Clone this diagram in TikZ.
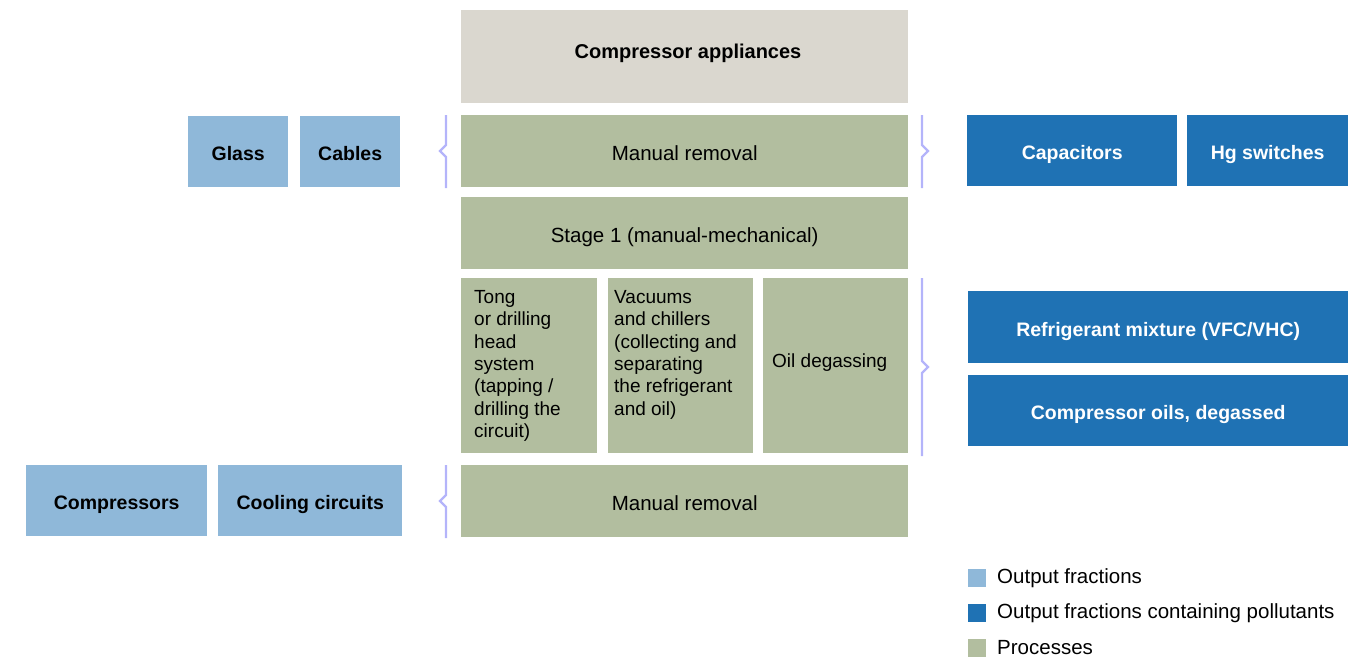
\documentclass[tikz,border=0pt]{standalone}
\usepackage{fontspec}
\setmainfont{Liberation Sans}
\definecolor{procfill}{HTML}{B2BE9F}
\definecolor{topfill}{HTML}{DAD7CF}
\definecolor{lightout}{HTML}{8FB8D9}
\definecolor{darkout}{HTML}{1F72B4}
\definecolor{bracecol}{HTML}{B4B4FA}
\begin{document}
\begin{tikzpicture}[x=1pt,y=-1pt,
  box/.style={draw=none,inner sep=0pt,anchor=north west,align=center,text height=18.5pt,text depth=0pt,font=\fontsize{20.5}{24}\selectfont},
  proc/.style={box,fill=procfill},
  light/.style={box,fill=lightout,font=\fontsize{19.5}{24}\selectfont\bfseries},
  dark/.style={box,fill=darkout,text=white,font=\fontsize{19.5}{24}\selectfont\bfseries},
  inner/.style={inner sep=0pt,align=left,font=\fontsize{19}{22.4}\selectfont},
  brace/.style={draw=bracecol,line width=2.4pt,line join=miter},
  legsq/.style={draw=none,inner sep=0pt,minimum size=18pt,anchor=north west},
  legtxt/.style={anchor=west,inner sep=0pt,font=\fontsize{20.5}{24}\selectfont}]
\useasboundingbox (0,0) rectangle (1370,659);

% process column
\node[box,fill=topfill,minimum width=447pt,minimum height=93pt] (top) at (461,10) {};
\node[inner sep=0pt,font=\fontsize{20}{24}\selectfont\bfseries] (toplbl) at (688,53) {Compressor appliances};
\node[proc,minimum width=447pt,minimum height=72pt] (mr1) at (461,115) {Manual removal};
\node[proc,minimum width=447pt,minimum height=72pt] (st1) at (461,197) {Stage 1 (manual-mechanical)};
\node[proc,minimum width=136pt,minimum height=175pt] (tong) at (461,278) {};
\node[inner,anchor=north west] (tongt) at (474,290) {Tong\\or drilling\\head\\system\\(tapping /\\drilling the\\circuit)};
\node[proc,minimum width=145pt,minimum height=175pt] (vac) at (608,278) {};
\node[inner,anchor=north west] (vact) at (614,290) {Vacuums\\and chillers\\(collecting and\\separating\\the refrigerant\\and oil)};
\node[proc,minimum width=145pt,minimum height=175pt] (oil) at (763,278) {};
\node[inner,anchor=west] (oilt) at (772,363) {Oil degassing};
\node[proc,minimum width=447pt,minimum height=72pt] (mr2) at (461,465) {Manual removal};

% output fractions
\node[light,minimum width=100pt,minimum height=71pt] (glass) at (188,116) {Glass};
\node[light,minimum width=100pt,minimum height=71pt] (cables) at (300,116) {Cables};
\node[dark,minimum width=210pt,minimum height=71pt] (cap) at (967,115) {Capacitors};
\node[dark,minimum width=161pt,minimum height=71pt] (hg) at (1187,115) {Hg switches};
\node[dark,minimum width=380pt,minimum height=72pt] (refr) at (968,291) {Refrigerant mixture (VFC/VHC)};
\node[dark,minimum width=380pt,minimum height=71pt] (coils) at (968,375) {Compressor oils, degassed};
\node[light,minimum width=181pt,minimum height=71pt] (comp) at (26,465) {Compressors};
\node[light,minimum width=184pt,minimum height=71pt] (cool) at (218,465) {Cooling circuits};

% braces
\coordinate (b1t) at (446,115); \coordinate (b1b) at (446,188);
\draw[brace] (b1t) -- ++(0,30) -- ++(-6,6) -- ++(6,6) -- (b1b);
\coordinate (b2t) at (922,115); \coordinate (b2b) at (922,188);
\draw[brace] (b2t) -- ++(0,30) -- ++(6,6) -- ++(-6,6) -- (b2b);
\coordinate (b3t) at (922,278); \coordinate (b3b) at (922,456);
\draw[brace] (b3t) -- ++(0,83) -- ++(6,6) -- ++(-6,6) -- (b3b);
\coordinate (b4t) at (446,465); \coordinate (b4b) at (446,538);
\draw[brace] (b4t) -- ++(0,30) -- ++(-6,6) -- ++(6,6) -- (b4b);

% legend
\node[legsq,fill=lightout] (l1) at (968,569) {};
\node[legtxt] (l1t) at (997,578) {Output fractions};
\node[legsq,fill=darkout] (l2) at (968,604) {};
\node[legtxt] (l2t) at (997,613) {Output fractions containing pollutants};
\node[legsq,fill=procfill] (l3) at (968,639) {};
\node[legtxt] (l3t) at (997,648) {Processes};
\end{tikzpicture}
\end{document}
